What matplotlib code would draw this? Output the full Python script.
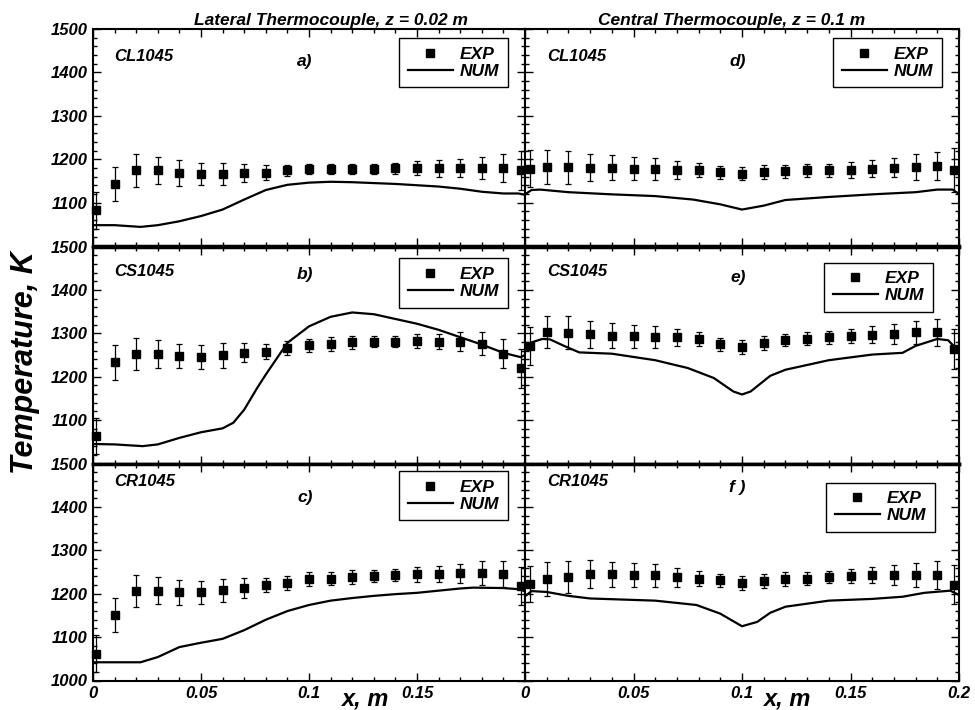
import matplotlib
matplotlib.use("Agg")
import matplotlib.pyplot as plt
from matplotlib.lines import Line2D
from matplotlib.ticker import MultipleLocator

plt.rcParams['font.family'] = ['Liberation Sans', 'DejaVu Sans']
plt.rcParams['font.weight'] = 'bold'
plt.rcParams['font.style'] = 'italic'

# measured points (EXP) - x positions
x_exp_left = [0.0015, 0.01, 0.02, 0.03, 0.04, 0.05, 0.06, 0.07, 0.08, 0.09, 0.10,
              0.11, 0.12, 0.13, 0.14, 0.15, 0.16, 0.17, 0.18, 0.19, 0.198]
x_exp_right = [0.0025, 0.01, 0.02, 0.03, 0.04, 0.05, 0.06, 0.07, 0.08, 0.09, 0.10,
               0.11, 0.12, 0.13, 0.14, 0.15, 0.16, 0.17, 0.18, 0.19, 0.1975]

# lateral thermocouple
exp_a = [1082, 1143, 1174, 1174, 1169, 1166, 1166, 1169, 1169, 1174, 1177,
         1177, 1177, 1177, 1179, 1179, 1179, 1179, 1179, 1179, 1175]
err_a = [42, 40, 37, 31, 30, 26, 25, 21, 17, 13, 12, 12, 12, 12, 13, 16, 19, 21, 25, 32, 45]
exp_b = [1063, 1233, 1252, 1253, 1247, 1245, 1249, 1255, 1258, 1266, 1272,
         1275, 1279, 1281, 1281, 1282, 1281, 1281, 1276, 1253, 1219]
err_b = [41, 40, 37, 32, 28, 27, 28, 22, 18, 16, 16, 16, 15, 13, 13, 16, 18, 21, 26, 33, 44]
exp_c = [1062, 1150, 1207, 1207, 1203, 1203, 1208, 1214, 1220, 1225, 1233,
         1235, 1238, 1241, 1243, 1245, 1245, 1247, 1248, 1245, 1218]
err_c = [42, 39, 37, 31, 28, 27, 26, 23, 17, 16, 16, 16, 16, 13, 13, 17, 19, 22, 27, 30, 43]

# central thermocouple
exp_d = [1178, 1182, 1182, 1180, 1180, 1178, 1178, 1175, 1175, 1170, 1167,
         1170, 1172, 1174, 1174, 1175, 1178, 1180, 1182, 1184, 1175]
err_d = [43, 39, 38, 31, 29, 27, 25, 20, 17, 15, 15, 16, 15, 15, 15, 18, 20, 22, 30, 33, 50]
exp_e = [1270, 1303, 1301, 1298, 1294, 1293, 1291, 1291, 1287, 1275, 1268,
         1278, 1284, 1288, 1291, 1293, 1297, 1299, 1302, 1302, 1264]
err_e = [44, 38, 38, 31, 29, 27, 25, 20, 16, 15, 16, 16, 14, 15, 15, 16, 19, 23, 27, 32, 46]
exp_f = [1222, 1233, 1238, 1245, 1245, 1243, 1242, 1238, 1235, 1231, 1225,
         1229, 1234, 1235, 1239, 1241, 1243, 1243, 1243, 1243, 1221]
err_f = [42, 39, 37, 32, 29, 27, 26, 22, 18, 15, 16, 16, 16, 15, 14, 17, 19, 22, 27, 33, 44]

# numerical curves (NUM)
x_num_a = [0, 0.01, 0.022, 0.03, 0.04, 0.05, 0.06, 0.07, 0.08, 0.09, 0.1, 0.11,
           0.12, 0.13, 0.14, 0.15, 0.16, 0.17, 0.18, 0.19, 0.197, 0.2]
num_a = [1048, 1048, 1044, 1048, 1057, 1069, 1084, 1107, 1129, 1141, 1146, 1148,
         1147, 1145, 1143, 1140, 1137, 1132, 1125, 1121, 1121, 1118]
x_num_b = [0, 0.01, 0.023, 0.03, 0.04, 0.05, 0.06, 0.065, 0.07, 0.076, 0.08, 0.09,
           0.1, 0.11, 0.12, 0.13, 0.14, 0.15, 0.16, 0.17, 0.18, 0.19, 0.198, 0.2]
num_b = [1045, 1044, 1040, 1044, 1059, 1072, 1081, 1094, 1124, 1174, 1205, 1278,
         1316, 1338, 1348, 1344, 1333, 1322, 1308, 1291, 1274, 1255, 1245, 1250]
x_num_c = [0, 0.01, 0.022, 0.03, 0.04, 0.05, 0.06, 0.065, 0.07, 0.08, 0.09, 0.1,
           0.11, 0.12, 0.13, 0.14, 0.15, 0.16, 0.17, 0.176, 0.19, 0.198, 0.2]
num_c = [1042, 1042, 1042, 1054, 1077, 1087, 1096, 1106, 1116, 1140, 1160, 1174,
         1184, 1190, 1195, 1199, 1202, 1207, 1212, 1214, 1213, 1210, 1205]
x_num_d = [0, 0.003, 0.007, 0.02, 0.04, 0.06, 0.0775, 0.09, 0.1, 0.11, 0.12,
           0.14, 0.16, 0.18, 0.19, 0.197, 0.2]
num_d = [1119, 1129, 1130, 1124, 1119, 1115, 1107, 1096, 1084, 1093, 1106,
         1113, 1119, 1124, 1130, 1130, 1120]
x_num_e = [0, 0.003, 0.008, 0.0115, 0.018, 0.025, 0.04, 0.06, 0.075, 0.087, 0.096,
           0.1, 0.104, 0.113, 0.12, 0.14, 0.16, 0.174, 0.18, 0.19, 0.195, 0.2]
num_e = [1266, 1279, 1287, 1286, 1271, 1256, 1253, 1238, 1220, 1197, 1166,
         1159, 1166, 1202, 1216, 1238, 1251, 1255, 1271, 1287, 1284, 1258]
x_num_f = [0, 0.003, 0.01, 0.02, 0.03, 0.06, 0.079, 0.09, 0.1, 0.107, 0.113,
           0.12, 0.14, 0.16, 0.174, 0.184, 0.196, 0.2]
num_f = [1194, 1206, 1204, 1195, 1189, 1184, 1174, 1154, 1125, 1135, 1156,
         1170, 1184, 1188, 1193, 1202, 1207, 1197]

cases = ['CL1045', 'CS1045', 'CR1045']
letters_left = ['a)', 'b)', 'c)']
letters_right = ['d)', 'e)', 'f )']
yticks = [1000, 1100, 1200, 1300, 1400, 1500]
xticks = [0, 0.05, 0.1, 0.15, 0.2]
xtick_labels = ['0', '0.05', '0.1', '0.15', '0.2']

W, H = 975, 710
fig = plt.figure(figsize=(W / 100, H / 100), dpi=100)

row_top = [29, 246.5, 463.5]
row_h = 217
col_left = [93, 525]
col_w = [432, 434]

panels = [
    [(x_exp_left, exp_a, err_a, x_num_a, num_a),
     (x_exp_left, exp_b, err_b, x_num_b, num_b),
     (x_exp_left, exp_c, err_c, x_num_c, num_c)],
    [(x_exp_right, exp_d, err_d, x_num_d, num_d),
     (x_exp_right, exp_e, err_e, x_num_e, num_e),
     (x_exp_right, exp_f, err_f, x_num_f, num_f)],
]
# positions of texts/legends, per panel (axes fraction / data)
case_y = [1436, 1443, 1459]
letter_y = [[1424, 1436, 1422], [1424, 1429, 1445]]
leg_anchor = [[(0.961, 0.959), (0.961, 0.945), (0.961, 0.965)],
              [(0.961, 0.959), (0.940, 0.926), (0.945, 0.912)]]

for c in range(2):
    for r in range(3):
        x0 = col_left[c] / W
        y0 = 1 - (row_top[r] + row_h) / H
        ax = fig.add_axes([x0, y0, col_w[c] / W, row_h / H])
        xe, te, ee, xn, tn = panels[c][r]
        ax.errorbar(xe, te, yerr=ee, fmt='s', color='k', ms=5.5, elinewidth=0.9,
                    capsize=2.4, capthick=0.9, clip_on=False, zorder=3)
        ax.plot(xn, tn, color='k', lw=1.6)
        ax.set_xlim(0, 0.2)
        ax.set_ylim(1000, 1500)
        ax.set_xticks(xticks)
        ax.set_yticks(yticks)
        ax.xaxis.set_minor_locator(MultipleLocator(0.01))
        ax.yaxis.set_minor_locator(MultipleLocator(20))
        ax.tick_params(which='both', direction='in', top=True, right=True, width=1.0)
        ax.tick_params(which='major', length=6, labelsize=12, pad=4)
        ax.tick_params(which='minor', length=3)
        for s in ax.spines.values():
            s.set_linewidth(1.5)
        if r > 0:
            ax.spines['top'].set_linewidth(2.5)
        if r < 2:
            ax.spines['bottom'].set_linewidth(2.5)

        if c == 0:
            labs = [str(v) for v in yticks]
            if r < 2:
                labs[0] = ''
            ax.set_yticklabels(labs)
        else:
            ax.set_yticklabels([])
        if r == 2:
            labs = list(xtick_labels)
            if c == 0:
                labs[-1] = ''
            ax.set_xticklabels(labs)
        else:
            ax.set_xticklabels([])

        ax.text(0.01, case_y[r], cases[r], fontsize=12, ha='left', va='center')
        letter = letters_left[r] if c == 0 else letters_right[r]
        ax.text(0.098, letter_y[c][r], letter, fontsize=12.5, ha='center', va='center')

        handles = [Line2D([], [], marker='s', ls='none', color='k', ms=5.5),
                   Line2D([], [], color='k', lw=1.6)]
        leg = ax.legend(handles, ['EXP', 'NUM'], loc='upper right',
                        bbox_to_anchor=leg_anchor[c][r], fontsize=12.5,
                        handlelength=2.6, handletextpad=0.4, labelspacing=0.1,
                        borderpad=0.5, borderaxespad=0, fancybox=False,
                        edgecolor='k', framealpha=1)
        leg.get_frame().set_linewidth(1.0)

fig.text(331 / W, 1 - 20 / H, 'Lateral Thermocouple, z = 0.02 m', fontsize=12.5,
         ha='center', va='center')
fig.text(732 / W, 1 - 20 / H, 'Central Thermocouple, z = 0.1 m', fontsize=12.5,
         ha='center', va='center')
fig.text(25 / W, 1 - 363 / H, 'Temperature, K', fontsize=22, rotation=90,
         ha='center', va='center')
fig.text(365 / W, 1 - 699 / H, 'x, m', fontsize=17, ha='center', va='center')
fig.text(787 / W, 1 - 699 / H, 'x, m', fontsize=17, ha='center', va='center')

plt.savefig('out.png', dpi=100)
